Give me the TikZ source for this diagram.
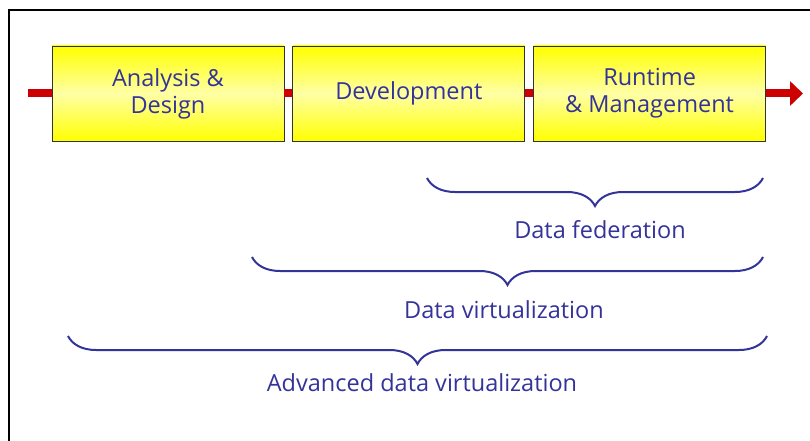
\documentclass[tikz,border=0pt]{standalone}
\usepackage{fontspec}
\setmainfont{Open Sans}
\usetikzlibrary{positioning}
\usetikzlibrary{arrows.meta}
\usetikzlibrary{decorations.pathreplacing}
\definecolor{txtblue}{HTML}{333399}
\definecolor{barred}{HTML}{CC0000}

\begin{document}
\begin{tikzpicture}[x=1pt, y=-1pt, node distance={8pt},
    phase/.style = {draw=black!80, line width=0.8pt, minimum width=232pt, minimum height=95pt, inner sep=0pt,
        top color=yellow, bottom color=yellow, middle color=yellow!35,
        text=txtblue, align=center, font=\fontsize{23.5}{27}\selectfont},
    lbl/.style = {text=txtblue, font=\fontsize{23.5}{27}\selectfont},
    brc/.style = {draw=txtblue, line width=2pt, decorate, decoration={brace, mirror, amplitude=28pt}},
    redbar/.style = {draw=barred, line width=8pt}]
    \useasboundingbox (0,0) rectangle (810,441);
    \draw[line width=2.5pt] (9,441) -- (9,10) -- (810,10);

    \node[phase] (analysis) at (168,93.5) {Analysis \&\\Design};
    \node[phase, right=of analysis] (development) {Development};
    \node[phase, right=of development] (runtime) {Runtime\\\& Management};

    % red process bar
    \coordinate (start) at (28,93.5);
    \coordinate (end) at (803,93.5);
    \draw[redbar] (start) -- (analysis);
    \draw[redbar] (analysis) -- (development);
    \draw[redbar] (development) -- (runtime);
    \draw[redbar, -{Triangle[length=13pt, width=24pt]}] (runtime) -- (end);

    % braces
    \coordinate (fedL) at (427,178);
    \coordinate (fedR) at (763,178);
    \coordinate (virtL) at (252,257);
    \coordinate (virtR) at (763,257);
    \coordinate (advL) at (68,336);
    \coordinate (advR) at (767,336);
    \draw[brc] (fedL) -- (fedR);
    \draw[brc] (virtL) -- (virtR);
    \draw[brc] (advL) -- (advR);

    \node[lbl] (fed) at (600,230) {Data federation};
    \node[lbl] (virt) at (504,310) {Data virtualization};
    \node[lbl] (adv) at (422,383) {Advanced data virtualization};
\end{tikzpicture}
\end{document}
